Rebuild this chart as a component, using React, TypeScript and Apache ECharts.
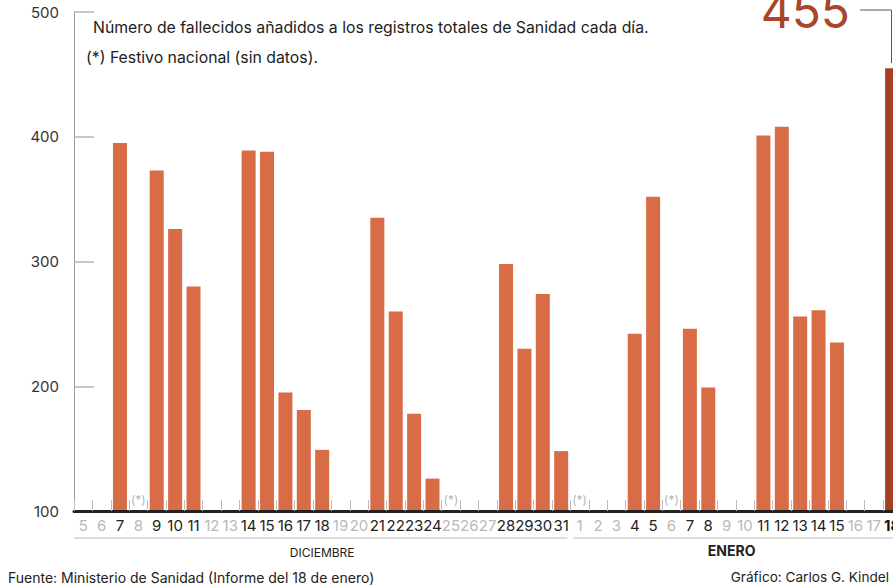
import React, { useEffect, useRef } from "react";
import * as echarts from "echarts";

const decDays = ["5","6","7","8","9","10","11","12","13","14","15","16","17","18","19","20","21","22","23","24","25","26","27","28","29","30","31"];
const janDays = ["1","2","3","4","5","6","7","8","9","10","11","12","13","14","15","16","17","18"];
const decValues: (number | null)[] = [null,null,395,null,373,326,280,null,null,389,388,195,181,149,null,null,335,260,178,126,null,null,null,298,230,274,148];
const janValues: (number | null)[] = [null,null,null,242,352,null,246,199,null,null,401,408,256,261,235,null,null,455];
const decHolidays = ["8","25"];
const janHolidays = ["1","6"];
const monthLabels = ["DICIEMBRE", "ENERO"];
const yTicks = [100, 200, 300, 400, 500];
const title = "Número de fallecidos añadidos a los registros totales de Sanidad cada día.";
const note = "(*) Festivo nacional (sin datos).";
const source = "Fuente: Ministerio de Sanidad (Informe del 18 de enero)";
const credit = "Gráfico: Carlos G. Kindel";

const FONT = "Inter, 'Noto Sans', sans-serif";

export default function App() {
  const ref = useRef<HTMLDivElement>(null);
  useEffect(() => {
    if (!ref.current) return;
    const chart = echarts.init(ref.current, undefined, { renderer: "svg" });
    const categories = [...decDays.map((d) => `${d} dic`), ...janDays.map((d) => `${d} ene`)];
    const values = [...decValues, ...janValues];
    const lastIdx = values.length - 1;
    const holidays = [...decHolidays.map((d) => `${d} dic`), ...janHolidays.map((d) => `${d} ene`)];

    const barData = values.map((v, i) =>
      v == null
        ? null
        : i === lastIdx
        ? { value: v, itemStyle: { color: "#a54026" } }
        : v
    );

    chart.setOption({
      animation: false,
      textStyle: { fontFamily: FONT },
      grid: { left: 74, top: 12, width: 827.3, height: 499, containLabel: false },
      xAxis: {
        type: "category",
        data: categories,
        boundaryGap: true,
        axisLine: { show: true, lineStyle: { color: "#222", width: 3 } },
        axisTick: { show: true, inside: true, length: 11, interval: 0, alignWithLabel: false, lineStyle: { color: "#bdbdbd", width: 1 } },
        axisLabel: {
          interval: 0,
          margin: 7,
          formatter: (val: string, idx: number) => {
            const d = val.split(" ")[0];
            if (idx === lastIdx) return `{b|${d}}`;
            return values[idx] == null ? `{n|${d}}` : `{d|${d}}`;
          },
          rich: {
            d: { color: "#222", fontSize: 15, fontFamily: FONT },
            n: { color: "#b9b9b9", fontSize: 15, fontFamily: FONT },
            b: { color: "#111", fontSize: 15, fontWeight: "bold", fontFamily: FONT },
          },
        },
        splitLine: { show: false },
        z: 3,
      },
      yAxis: {
        type: "value",
        min: yTicks[0],
        max: yTicks[yTicks.length - 1],
        interval: 100,
        axisLine: { show: true, lineStyle: { color: "#9a9a9a", width: 1 } },
        axisTick: { show: true, inside: true, length: 20, lineStyle: { color: "#b5b5b5", width: 1.5 } },
        axisLabel: { color: "#333", fontSize: 15, margin: 15, fontFamily: FONT },
        splitLine: { show: false },
      },
      series: [
        {
          type: "bar",
          data: barData,
          barWidth: 14,
          itemStyle: { color: "#d86c46" },
          z: 2,
        },
        {
          type: "scatter",
          data: holidays.map((c) => [c, yTicks[0]]),
          symbolSize: 0,
          label: {
            show: true,
            position: "top",
            distance: 6,
            formatter: "(*)",
            color: "#a0a0a0",
            fontSize: 12,
            fontFamily: FONT,
          },
          z: 4,
        },
      ],
    });

    const c0 = chart.convertToPixel({ xAxisIndex: 0 }, categories[0]) as number;
    const c1 = chart.convertToPixel({ xAxisIndex: 0 }, categories[1]) as number;
    const bw = c1 - c0;
    const decEndIdx = decDays.length - 1;
    const decStart = c0 - bw / 2;
    const decEnd = (chart.convertToPixel({ xAxisIndex: 0 }, categories[decEndIdx]) as number) + bw / 2;
    const lastX = chart.convertToPixel({ xAxisIndex: 0 }, categories[lastIdx]) as number;
    const lastY = chart.convertToPixel({ yAxisIndex: 0 }, values[lastIdx] as number) as number;
    const W = 893;
    const calloutX = Math.min(lastX, W - 1.5);

    chart.setOption({
      graphic: [
        { type: "line", shape: { x1: decStart, y1: 538, x2: decEnd - 3, y2: 538 }, style: { stroke: "#cfcfcf", lineWidth: 1.5 } },
        { type: "line", shape: { x1: decEnd + 3, y1: 538, x2: W + 20, y2: 538 }, style: { stroke: "#cfcfcf", lineWidth: 1.5 } },
        { type: "text", x: (decStart + decEnd) / 2, y: 552, style: { text: monthLabels[0], fill: "#222", font: `12px ${FONT}`, textAlign: "center", verticalAlign: "middle" } },
        { type: "text", x: (decEnd + W) / 2, y: 550, style: { text: monthLabels[1], fill: "#222", font: `bold 14px ${FONT}`, textAlign: "center", verticalAlign: "middle" } },
        { type: "text", x: 93, y: 27, style: { text: title, fill: "#222", font: `15.8px ${FONT}`, verticalAlign: "middle" } },
        { type: "text", x: 86, y: 57, style: { text: note, fill: "#222", font: `15.8px ${FONT}`, verticalAlign: "middle" } },
        { type: "text", x: 8, y: 577, style: { text: source, fill: "#222", font: `14px ${FONT}`, verticalAlign: "middle" } },
        { type: "text", x: 889, y: 577, style: { text: credit, fill: "#222", font: `13.6px ${FONT}`, textAlign: "right", verticalAlign: "middle" } },
        { type: "text", x: 850, y: -14, style: { text: String(values[lastIdx]), fill: "#a8452a", font: `48px ${FONT}`, textAlign: "right", verticalAlign: "top" } },
        { type: "polyline", shape: { points: [[860, 10], [calloutX, 10], [calloutX, lastY - 5]] }, style: { stroke: "#555", lineWidth: 1, fill: "none" } },
      ],
    });

    return () => chart.dispose();
  }, []);
  return (
    <div style={{ position: "absolute", left: 0, top: 0, width: 893, height: 585, overflow: "hidden" }}>
      <div ref={ref} style={{ width: 910, height: 585 }} />
    </div>
  );
}
